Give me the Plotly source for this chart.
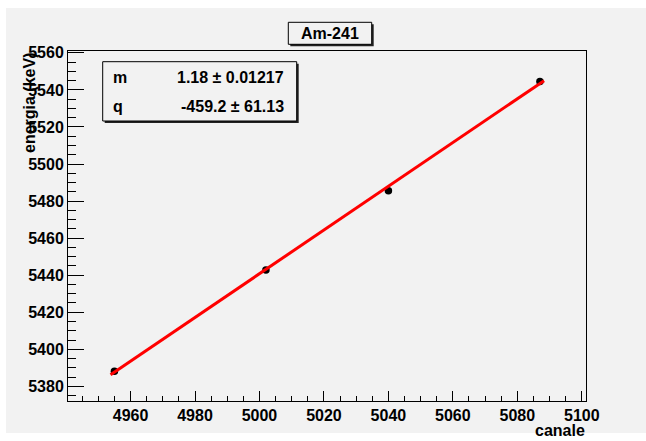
import plotly.graph_objects as go

# ---- data ----
canale = [4955.0, 5002.0, 5040.0, 5087.0]
energia = [5388.2, 5442.8, 5485.6, 5544.5]
fit_m = 1.18
fit_m_err = 0.01217
fit_q = -459.2
fit_q_err = 61.13
fit_range = [4953.8, 5088.3]
x_range = [4940.6, 5101.3]
y_range = [5372.1, 5561.0]
x_ticks = [4960, 4980, 5000, 5020, 5040, 5060, 5080, 5100]
y_ticks = [5380, 5400, 5420, 5440, 5460, 5480, 5500, 5520, 5540, 5560]

W, H = 646, 441
L, R, T, B = 68, 60, 51, 40
PW, PH = W - L - R, H - T - B
BG = "#f2f2f2"
FONT = "Liberation Sans"


def px(x):
    return (x - L) / PW


def py(y):
    return (H - B - y) / PH


fit_x = list(fit_range)
fit_y = [fit_m * v + fit_q for v in fit_x]

fig = go.Figure()
fig.add_trace(go.Scatter(x=canale, y=energia, mode="markers",
                         marker=dict(color="black", size=7.5), showlegend=False))
fig.add_trace(go.Scatter(x=fit_x, y=fit_y, mode="lines",
                         line=dict(color="#ff0000", width=3), showlegend=False))

shapes = []
# canvas gray area
shapes.append(dict(type="rect", xref="paper", yref="paper", layer="below",
                   x0=px(6), x1=px(646), y0=py(433), y1=py(8),
                   fillcolor=BG, line=dict(width=0)))


def box(x0, y0, x1, y1, sh=2):
    shapes.append(dict(type="rect", xref="paper", yref="paper", layer="above",
                       x0=px(x0 + sh), x1=px(x1 + sh), y0=py(y1 + sh), y1=py(y0 + sh),
                       fillcolor="#222222", line=dict(width=0)))
    shapes.append(dict(type="rect", xref="paper", yref="paper", layer="above",
                       x0=px(x0), x1=px(x1), y0=py(y1), y1=py(y0),
                       fillcolor=BG, line=dict(color="black", width=1)))


box(288.3, 22.3, 371.7, 44.3)
box(102.7, 61.7, 296.7, 121.0)

f16 = dict(family=FONT, size=16, color="black", weight="bold")
ann = [
    dict(text="Am-241", x=px(330), y=py(33.5), xanchor="center", yanchor="middle"),
    dict(text="m", x=px(111), y=py(77.5), xanchor="left", yanchor="middle"),
    dict(text=f"{fit_m:g} ± {fit_m_err:g}", x=px(285.5), y=py(77.5), xanchor="right", yanchor="middle"),
    dict(text="q", x=px(111), y=py(106.5), xanchor="left", yanchor="middle"),
    dict(text=f"{fit_q:g} ± {fit_q_err:g}", x=px(285.5), y=py(106.5), xanchor="right", yanchor="middle"),
    dict(text="canale", x=px(587), y=py(431), xanchor="right", yanchor="middle"),
    dict(text="energia (keV)", x=px(29), y=py(51), xanchor="center", yanchor="top", textangle=-90),
]
annotations = []
for a in ann:
    a.update(xref="paper", yref="paper", showarrow=False, font=f16)
    annotations.append(a)

axis_common = dict(showline=True, mirror=True, linecolor="black", linewidth=1,
                   showgrid=False, zeroline=False, ticks="inside", tickcolor="black",
                   tickfont=dict(family=FONT, size=16, color="black", weight="bold"))

fig.update_layout(
    width=W, height=H,
    margin=dict(l=L, r=R, t=T, b=B),
    paper_bgcolor="white", plot_bgcolor=BG,
    xaxis=dict(range=x_range, tickvals=x_ticks, ticklen=10, tickwidth=1,
               minor=dict(ticks="inside", ticklen=5, dtick=5, tick0=0, tickcolor="black"),
               **axis_common),
    yaxis=dict(range=y_range, tickvals=y_ticks, ticklen=16, tickwidth=1,
               minor=dict(ticks="inside", ticklen=8, dtick=5, tick0=0, tickcolor="black"),
               **axis_common),
    shapes=shapes, annotations=annotations,
)

fig.write_html("out.html", config={"displayModeBar": False},
               post_script="document.body.style.margin='0px';document.body.style.overflow='hidden';")
